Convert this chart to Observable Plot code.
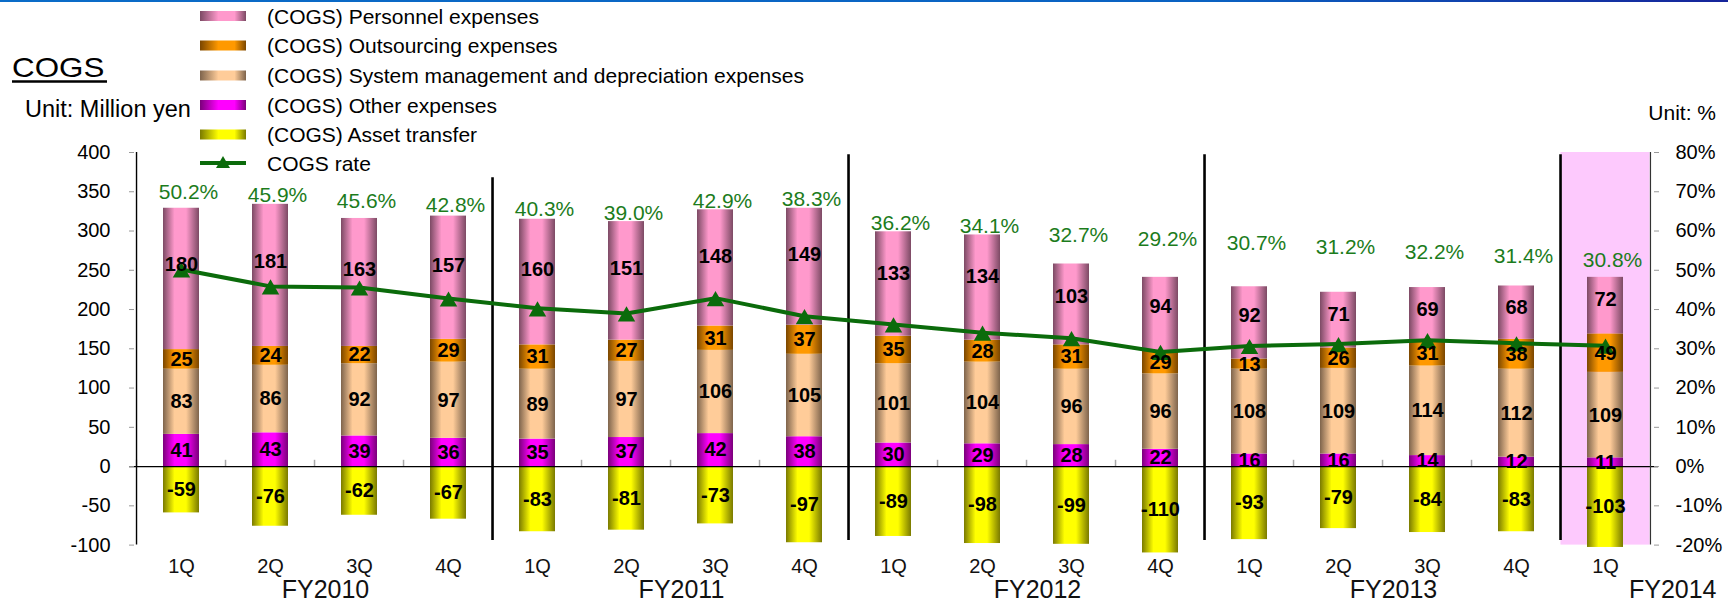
<!DOCTYPE html>
<html>
<head>
<meta charset="utf-8">
<script src="https://cdn.jsdelivr.net/npm/d3@7"></script>
<script src="https://cdn.jsdelivr.net/npm/@observablehq/plot@0.6"></script>
<style>
  body { margin: 0; background: #fff; }
  #wrap { position: relative; width: 1728px; height: 604px; overflow: hidden; font-family: "Liberation Sans", Arial, sans-serif; }
  #topline { position: absolute; left: 0; top: 0; width: 1728px; height: 2px;
    background: linear-gradient(to right, #0a6cc8, #0a62c2 70%, #16249a); }
  #chart, #overlay { position: absolute; left: 0; top: 0; }
  #overlay { pointer-events: none; }
</style>
</head>
<body>
<div id="wrap">
  <div id="chart"></div>
  <div id="overlay"></div>
  <div id="topline"></div>
</div>
<script>
// Quarterly cost of goods sold, million yen, with the COGS rate in %.
const quarters = ["1Q","2Q","3Q","4Q","1Q","2Q","3Q","4Q","1Q","2Q","3Q","4Q","1Q","2Q","3Q","4Q","1Q"];
const fiscalYearOfQuarter = ["FY2010","FY2010","FY2010","FY2010","FY2011","FY2011","FY2011","FY2011",
  "FY2012","FY2012","FY2012","FY2012","FY2013","FY2013","FY2013","FY2013","FY2014"];
const fiscalYears = ["FY2010","FY2011","FY2012","FY2013","FY2014"];

const personnel     = [180,181,163,157,160,151,148,149,133,134,103,94,92,71,69,68,72];
const outsourcing   = [25,24,22,29,31,27,31,37,35,28,31,29,13,26,31,38,49];
const systemMgmt    = [83,86,92,97,89,97,106,105,101,104,96,96,108,109,114,112,109];
const otherExpenses = [41,43,39,36,35,37,42,38,30,29,28,22,16,16,14,12,11];
const assetTransfer = [-59,-76,-62,-67,-83,-81,-73,-97,-89,-98,-99,-110,-93,-79,-84,-83,-103];
const cogsRate      = [50.2,45.9,45.6,42.8,40.3,39.0,42.9,38.3,36.2,34.1,32.7,29.2,30.7,31.2,32.2,31.4,30.8];

const seriesNames = [
  "(COGS) Personnel expenses",
  "(COGS) Outsourcing expenses",
  "(COGS) System management and depreciation expenses",
  "(COGS) Other expenses",
  "(COGS) Asset transfer"
];
const rateName = "COGS rate";
const leftTicks = [-100,-50,0,50,100,150,200,250,300,350,400];

// light / dark tones of each cylinder-shaded bar
const tones = [
  ["#ff99cc", "#7c4a64"],
  ["#ff9900", "#7a4600"],
  ["#ffcc99", "#7e644c"],
  ["#ff00ff", "#7a007a"],
  ["#ffff00", "#7a7a00"]
];
const GREEN_LINE = "#0b6b0b";
const GREEN_TEXT = "#1c7c1c";

// ----- layout -----
const W = 1728, H = 604;
const mL = 129, mR = 70, mT = 152, mB = 59.4;
const PAD = 0.59;
const RATE_SCALE = 5; // 80 % on the right axis sits level with 400 on the left
const keys = quarters.map((q, i) => `${fiscalYearOfQuarter[i]} ${q}`);
const step = (W - mL - mR) / keys.length;

// stacked segments: positives upward from zero, asset transfer below it
const valuesBySeries = [personnel, outsourcing, systemMgmt, otherExpenses, assetTransfer];
const stackOrder = [3, 2, 1, 0];
const rows = [];
const tops = [];
keys.forEach((key, i) => {
  let base = 0;
  for (const s of stackOrder) {
    const v = valuesBySeries[s][i];
    rows.push({key, series: seriesNames[s], s, value: v, y1: base, y2: base + v});
    base += v;
  }
  tops.push(base);
  const a = assetTransfer[i];
  rows.push({key, series: seriesNames[4], s: 4, value: a, y1: 0, y2: a});
});
const labelY = d => d.s === 0 ? d.y1 + 0.6 * (d.y2 - d.y1) : (d.y1 + d.y2) / 2;

const rateRows = keys.map((key, i) => ({
  key, rate: cogsRate[i],
  labelAt: Math.max(tops[i] + 11, 349 - 5.4 * i)
}));

// vertical dividers at the start of each new fiscal year
const dividers = fiscalYears.slice(1).map((fy, j) => ({
  key: keys[fiscalYearOfQuarter.indexOf(fy)],
  top: j === 0 ? 368 : 397
}));
const fullYears = fiscalYears.filter(fy => fiscalYearOfQuarter.filter(f => f === fy).length === 4)
  .map(fy => ({fy, key: keys[fiscalYearOfQuarter.indexOf(fy) + 1]}));
const partialYears = fiscalYears.filter(fy => fiscalYearOfQuarter.filter(f => f === fy).length < 4);

const chart = Plot.plot({
  width: W, height: H,
  marginLeft: mL, marginRight: mR, marginTop: mT, marginBottom: mB,
  style: {fontFamily: '"Liberation Sans", Arial, sans-serif', background: "transparent", color: "black"},
  x: {domain: keys, paddingInner: PAD, paddingOuter: PAD / 2, axis: null},
  y: {domain: [-100, 400]},
  color: {domain: seriesNames, range: seriesNames.map((_, i) => `url(#cyl${i})`)},
  marks: [
    // latest quarter highlighted
    Plot.barY([keys[keys.length - 1]], {x: d => d, y1: -100, y2: 400, fill: "#fdc9fd",
      insetLeft: -step * PAD / 2, insetRight: -step * PAD / 2}),
    // category ticks on the zero line
    Plot.ruleX(keys, {x: d => d, y1: 0, y2: 8, dx: -step / 2, stroke: "#a8a8a8", strokeWidth: 1.5}),
    Plot.barY(rows, {x: "key", y1: "y1", y2: "y2", fill: "series"}),
    Plot.ruleX(dividers, {x: "key", y1: -94, y2: "top", dx: -step / 2, stroke: "black", strokeWidth: 2.6}),
    Plot.ruleY([0], {stroke: "black", strokeWidth: 1.2}),
    Plot.ruleX([keys[0]], {x: d => d, y1: -100, y2: 400, dx: -step / 2, stroke: "black", strokeWidth: 1.4}),
    Plot.ruleX([keys[keys.length - 1]], {x: d => d, y1: -100, y2: 400, dx: step / 2, stroke: "#333", strokeWidth: 1.2}),
    Plot.axisY({anchor: "left", ticks: leftTicks, tickSize: -5, tickFormat: () => "", stroke: "#999"}),
    Plot.axisY({anchor: "left", ticks: leftTicks, tickSize: 0, tickPadding: 19, fontSize: 20, fill: "black",
      tickFormat: d => String(d)}),
    Plot.axisY({anchor: "right", ticks: leftTicks, tickSize: -5, tickFormat: () => "", stroke: "#999"}),
    Plot.axisY({anchor: "right", ticks: leftTicks, tickSize: 0, tickPadding: 17, fontSize: 20, fill: "black",
      tickFormat: d => `${d / RATE_SCALE}%`}),
    // COGS rate on the right-hand scale
    Plot.line(rateRows, {x: "key", y: d => d.rate * RATE_SCALE, stroke: GREEN_LINE, strokeWidth: 4}),
    Plot.dot(rateRows, {x: "key", y: d => d.rate * RATE_SCALE, symbol: "triangle", r: 6.5, fill: GREEN_LINE, dy: 3}),
    Plot.text(rateRows, {x: "key", y: "labelAt", text: d => `${d.rate.toFixed(1)}%`, fill: GREEN_TEXT, fontSize: 21, dx: 7}),
    // segment values
    Plot.text(rows, {x: "key", y: labelY, text: d => String(d.value), fontWeight: "bold", fontSize: 20, fill: "black"}),
    // category labels
    Plot.text(keys, {x: d => d, text: (d, i) => quarters[i], frameAnchor: "bottom", lineAnchor: "bottom", dy: 27.5, fontSize: 20, fill: "#111"}),
    Plot.text(fullYears, {x: "key", text: "fy", frameAnchor: "bottom", lineAnchor: "bottom", dx: step / 2 + 10, dy: 52.5, fontSize: 25, fill: "#111"}),
    Plot.text(partialYears, {text: d => d, frameAnchor: "bottom-right", textAnchor: "end", lineAnchor: "bottom", dx: 58, dy: 52.5, fontSize: 25, fill: "#111"})
  ]
});

// cylinder shading used by the bars
const defs = d3.select(chart).insert("defs", ":first-child");
tones.forEach(([light, dark], i) => {
  const g = defs.append("linearGradient").attr("id", `cyl${i}`).attr("x1", 0).attr("x2", 1).attr("y1", 0).attr("y2", 0);
  [[0, dark], [0.32, light], [0.64, light], [1, dark]].forEach(([o, c]) =>
    g.append("stop").attr("offset", o).attr("stop-color", c));
});
document.getElementById("chart").append(chart);

// title, units and legend
const ov = d3.select("#overlay").append("svg").attr("width", W).attr("height", H)
  .style("font-family", '"Liberation Sans", Arial, sans-serif');
ov.append("text").attr("transform", "translate(12,77) scale(1.12,1)").attr("font-size", 28).text("COGS");
ov.append("line").attr("x1", 12).attr("x2", 107).attr("y1", 81.5).attr("y2", 81.5).attr("stroke", "black").attr("stroke-width", 2.5);
ov.append("text").attr("x", 25).attr("y", 117).attr("font-size", 23.5).text("Unit: Million yen");
ov.append("text").attr("x", 1716).attr("y", 120).attr("font-size", 21).attr("text-anchor", "end").text("Unit: %");

const legendDefs = ov.append("defs");
tones.forEach(([light, dark], i) => {
  const g = legendDefs.append("linearGradient").attr("id", `lg${i}`);
  [[0, dark], [0.4, light], [0.75, light], [1, dark]].forEach(([o, c]) =>
    g.append("stop").attr("offset", o).attr("stop-color", c));
});
const rowY = [16, 45.5, 75.5, 105, 134.5, 163];
seriesNames.forEach((name, i) => {
  ov.append("rect").attr("x", 200).attr("y", rowY[i] - 5).attr("width", 46).attr("height", 10).attr("fill", `url(#lg${i})`);
  ov.append("text").attr("x", 267).attr("y", rowY[i] + 7.5).attr("font-size", 21).text(name);
});
const ry = rowY[5];
ov.append("line").attr("x1", 200).attr("x2", 246).attr("y1", ry).attr("y2", ry).attr("stroke", GREEN_LINE).attr("stroke-width", 4);
ov.append("path").attr("d", `M223,${ry - 7}L230,${ry + 5}L216,${ry + 5}Z`).attr("fill", GREEN_LINE);
ov.append("text").attr("x", 267).attr("y", ry + 7.5).attr("font-size", 21).text(rateName);
</script>
</body>
</html>
